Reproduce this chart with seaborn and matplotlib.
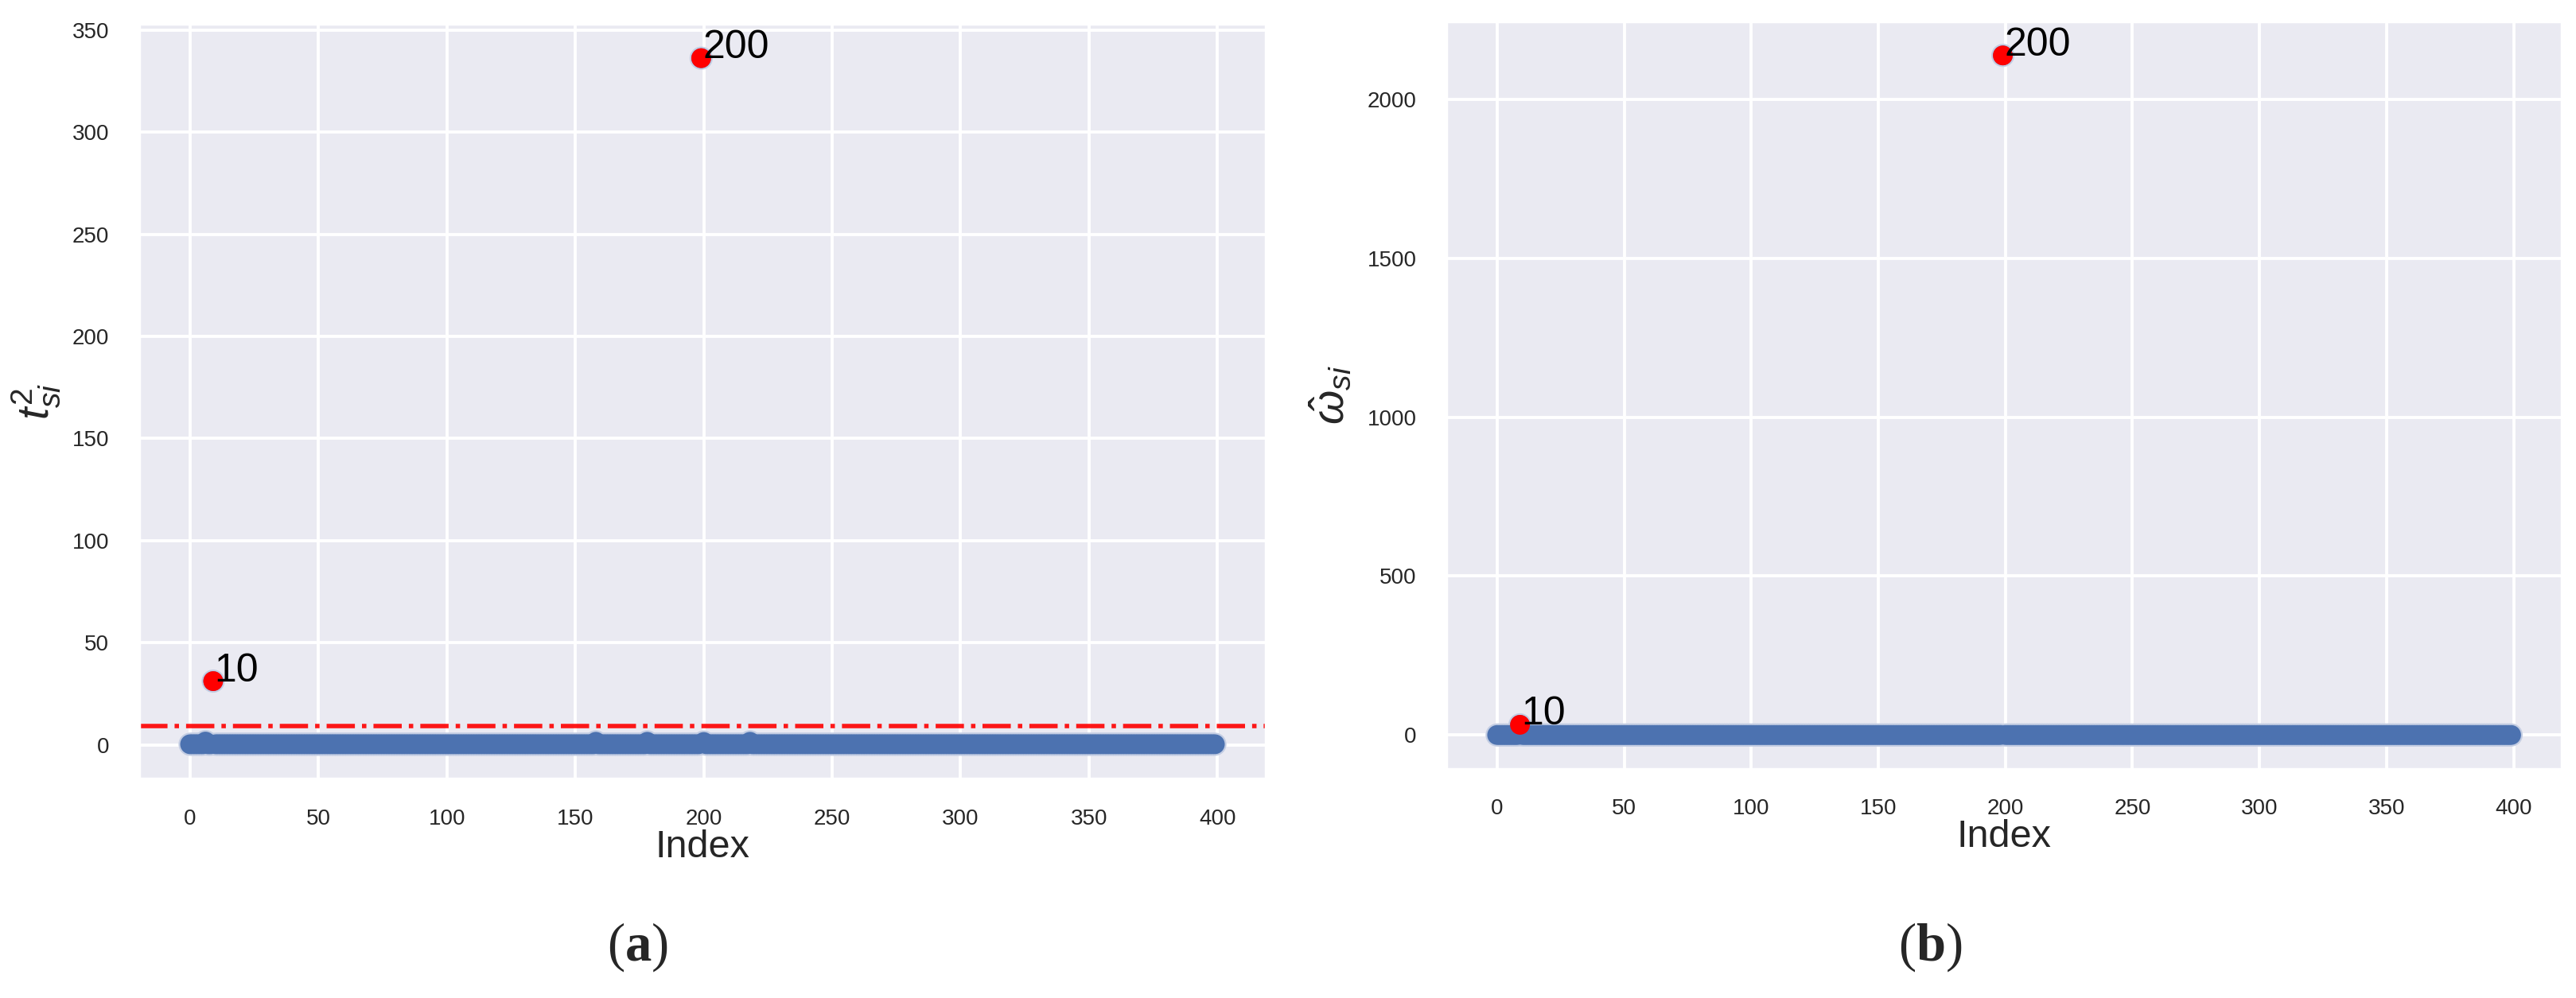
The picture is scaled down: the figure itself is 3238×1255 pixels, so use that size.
import numpy as np
import pandas as pd
import seaborn as sns
import matplotlib.pyplot as plt

# observation index (0-based) and the readings plotted for each panel
n_obs = 400
baseline_t2 = 0.3        # the bulk of t^2 sits on zero
baseline_omega = 0.0     # the bulk of omega-hat sits on zero
t2_bumps = {6: 1.6, 158: 1.5, 178: 1.5, 200: 1.4, 218: 1.5}
outlier_x = [9, 199]
outlier_labels = ["10", "200"]
t2_outliers = [31.2, 336.2]
omega_outliers = [32.0, 2138.0]
t2_threshold = 9.1
x_ticks = [0, 50, 100, 150, 200, 250, 300, 350, 400]

idx = list(range(n_obs))
t2 = [baseline_t2] * n_obs
for k, v in t2_bumps.items():
    t2[k] = v
omega = [baseline_omega] * n_obs
for k, a, b in zip(outlier_x, t2_outliers, omega_outliers):
    t2[k] = a
    omega[k] = b

df = pd.DataFrame({"Index": idx, "t2": t2, "omega": omega})
out = pd.DataFrame({"Index": outlier_x, "label": outlier_labels,
                    "t2": t2_outliers, "omega": omega_outliers})

sns.set_theme(style="darkgrid")
plt.rcParams['font.family'] = ['Liberation Sans', 'DejaVu Sans']
plt.rcParams['mathtext.fontset'] = 'custom'
plt.rcParams['mathtext.rm'] = 'Liberation Sans'
plt.rcParams['mathtext.it'] = 'Liberation Sans:italic'
plt.rcParams['mathtext.bf'] = 'Liberation Serif:bold'
plt.rcParams['grid.linewidth'] = 1.4

blue = "#4c72b0"
fig = plt.figure(figsize=(16.19, 6.275), dpi=200)
ax1 = fig.add_axes([0.0539, 0.2199, 0.4376, 0.7562])
ax2 = fig.add_axes([0.5615, 0.2295, 0.4330, 0.7490])

for ax, col, ylab, lx in [(ax1, "t2", r"$t^2_{si}$", -0.068),
                          (ax2, "omega", r"$\hat{\omega}_{si}$", -0.083)]:
    # faint halo under the dense band, then the solid markers
    sns.scatterplot(data=df, x="Index", y=col, ax=ax, s=110, color="#c3cde3",
                    edgecolor="none", zorder=1.8)
    sns.scatterplot(data=df, x="Index", y=col, ax=ax, s=80, color=blue,
                    edgecolor="none", zorder=2)
    sns.scatterplot(data=out, x="Index", y=col, ax=ax, s=80, color="red",
                    edgecolor="none", zorder=3)
    for _, r in out.iterrows():
        ax.text(r["Index"] + 0.5, r[col], r["label"], fontsize=18,
                color="black", zorder=4)
    ax.set_xticks(x_ticks)
    ax.tick_params(labelsize=10, pad=7.5, colors=".15")
    ax.set_xlabel("Index", fontsize=17.5, labelpad=0)
    ax.set_ylabel(ylab, fontsize=20)
    ax.yaxis.set_label_coords(lx, 0.5)

ax1.axhline(t2_threshold, color="red", lw=2.0, ls="-.", alpha=0.9, zorder=2.5)

fig.text(801 / 3238, 1 - 1191 / 1255, r"($\mathbf{a}$)", fontsize=24,
         family="Liberation Serif", ha="center", va="center")
fig.text(2426 / 3238, 1 - 1191 / 1255, r"($\mathbf{b}$)", fontsize=24,
         family="Liberation Serif", ha="center", va="center")

fig.savefig("out.png", dpi=200)
